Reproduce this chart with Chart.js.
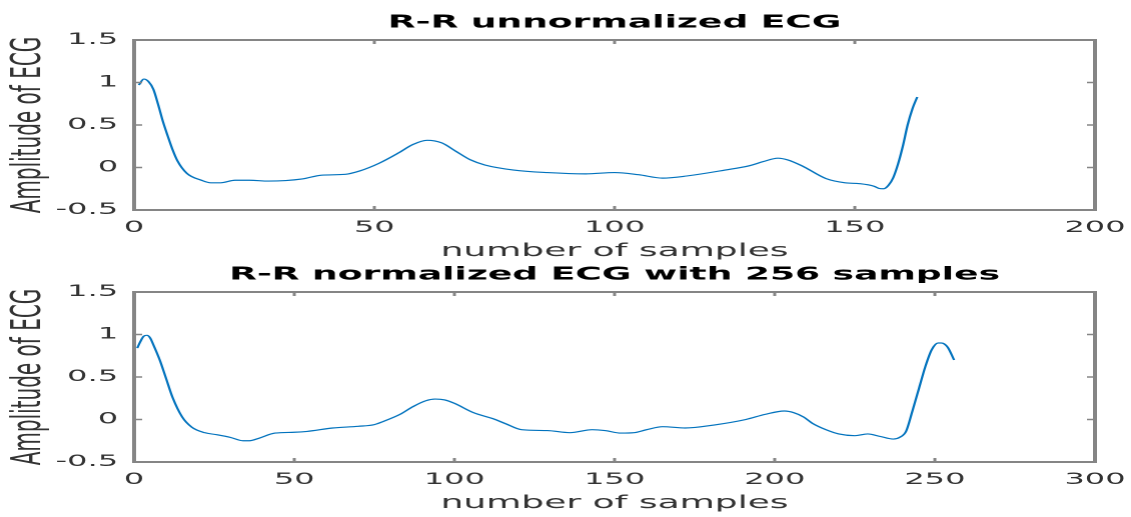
<!DOCTYPE html>
<html>
<head>
<meta charset="utf-8">
<title>R-R ECG</title>
<script src="https://cdn.jsdelivr.net/npm/chart.js@4.4.1/dist/chart.umd.min.js"></script>
<style>
  html, body { margin: 0; padding: 0; background: #fff; }
  #wrap { position: relative; width: 1131px; height: 517px; overflow: hidden; }
  canvas { position: absolute; left: 0; }
  #ecgTop { top: 0; }
  #ecgNorm { top: 252px; }
</style>
</head>
<body>
<div id="wrap">
  <canvas id="ecgTop" width="565" height="265" style="width:1131px;height:265px"></canvas>
  <canvas id="ecgNorm" width="565" height="265" style="width:1131px;height:265px"></canvas>
</div>
<script>
// one R-R interval, raw length (163 samples)
var rawSamples = [1, 2, 3, 4, 5, 6, 7, 8, 9, 11, 14, 16, 18, 21, 24, 28, 35, 39, 44, 47,
  51, 55, 58, 61, 64, 67, 70, 73, 79, 86, 94, 100, 105, 110, 115, 123, 128, 131, 134, 136,
  139, 144, 148, 151, 154, 155, 156, 157, 158, 159, 160, 161, 162, 163];
var rawAmplitude = [0.97, 1.04, 1.01, 0.92, 0.74, 0.54, 0.37, 0.21, 0.08, -0.07, -0.15, -0.18, -0.18, -0.15, -0.15, -0.16, -0.135, -0.09, -0.08, -0.04,
  0.05, 0.17, 0.27, 0.32, 0.29, 0.19, 0.09, 0.03, -0.03, -0.06, -0.075, -0.06, -0.085, -0.125, -0.1, -0.03, 0.02, 0.07, 0.11, 0.09,
  0.02, -0.13, -0.18, -0.19, -0.22, -0.245, -0.25, -0.21, -0.12, 0.04, 0.25, 0.5, 0.69, 0.83];

// same interval resampled to 256 samples
var normSamples = [1, 2, 3, 4, 5, 6, 8, 10, 12, 15, 18, 22, 26, 30, 34, 36, 39, 44, 50, 54,
  62, 70, 75, 78, 83, 87, 91, 94, 97, 100, 106, 112, 116, 121, 129, 136, 143, 147, 152, 156,
  160, 165, 172, 181, 191, 197, 203, 206, 209, 212, 216, 220, 225, 229, 233, 237, 239, 241, 243, 245, 247,
  249, 251, 252, 254, 256];
var normAmplitude = [0.84, 0.92, 0.98, 0.99, 0.96, 0.88, 0.70, 0.48, 0.26, 0.03, -0.09, -0.155, -0.18, -0.21, -0.25, -0.25, -0.22, -0.16, -0.15, -0.14,
  -0.10, -0.08, -0.06, -0.02, 0.06, 0.15, 0.22, 0.24, 0.23, 0.19, 0.08, 0.01, -0.05, -0.12, -0.13, -0.155, -0.12, -0.13, -0.16, -0.155,
  -0.12, -0.085, -0.10, -0.065, 0.0, 0.06, 0.10, 0.08, 0.03, -0.05, -0.12, -0.17, -0.19, -0.17, -0.2, -0.23, -0.21, -0.14, 0.1, 0.36, 0.62,
  0.82, 0.9, 0.9, 0.85, 0.7];

var rawXTicks = [0, 50, 100, 150, 200];
var normXTicks = [0, 50, 100, 150, 200, 250, 300];
var ampTicks = [-0.5, 0, 0.5, 1, 1.5];

Chart.defaults.font.family = 'DejaVu Sans';

// box around the axes with inward ticks on all four sides
var boxPlugin = {
  id: 'axesBox',
  afterDraw: function (chart) {
    var ctx = chart.ctx;
    var a = chart.chartArea;
    var xs = chart.scales.x, ys = chart.scales.y;
    ctx.save();
    ctx.strokeStyle = '#858585';
    ctx.lineWidth = 1.5;
    ctx.beginPath();
    xs.ticks.forEach(function (t) {
      var px = xs.getPixelForValue(t.value);
      ctx.moveTo(px, a.bottom); ctx.lineTo(px, a.bottom - 4);
      ctx.moveTo(px, a.top); ctx.lineTo(px, a.top + 4);
    });
    ys.ticks.forEach(function (t) {
      var py = ys.getPixelForValue(t.value);
      ctx.moveTo(a.left, py); ctx.lineTo(a.left + 4, py);
      ctx.moveTo(a.right, py); ctx.lineTo(a.right - 4, py);
    });
    ctx.stroke();
    ctx.lineWidth = 2;
    ctx.strokeRect(a.left, a.top, a.right - a.left, a.bottom - a.top);
    ctx.restore();
  }
};

function makeChart(id, titleText, samples, amps, xTicks) {
  var points = samples.map(function (s, i) { return { x: s, y: amps[i] }; });
  var ctx = document.getElementById(id).getContext('2d');
  return new Chart(ctx, {
    type: 'line',
    data: {
      datasets: [{
        data: points,
        borderColor: '#0072BD',
        borderWidth: 1.15,
        pointRadius: 0,
        fill: false,
        cubicInterpolationMode: 'monotone'
      }]
    },
    options: {
      responsive: false,
      devicePixelRatio: 2,
      animation: false,
      events: [],
      layout: { padding: { left: 0, right: 18, top: 0, bottom: 0 } },
      plugins: {
        legend: { display: false },
        tooltip: { enabled: false },
        title: {
          display: true,
          fullSize: false,
          text: titleText,
          color: '#000',
          font: { size: 18, weight: 'bold' },
          padding: { top: 12, bottom: 6.4 }
        }
      },
      scales: {
        x: {
          type: 'linear',
          min: xTicks[0],
          max: xTicks[xTicks.length - 1],
          afterBuildTicks: function (scale) {
            scale.ticks = xTicks.map(function (v) { return { value: v }; });
          },
          afterFit: function (scale) { scale.height = 55; },
          // tick marks are hidden, their length only spaces the labels
          grid: { display: false, drawTicks: true, tickLength: 8 },
          border: { display: false },
          ticks: {
            padding: 0,
            color: '#333',
            font: { size: 16 },
            maxRotation: 0,
            callback: function (v) { return String(v); }
          },
          title: {
            display: true,
            text: 'number of samples',
            color: '#333',
            font: { size: 18 },
            padding: { top: 0, bottom: 3 }
          }
        },
        y: {
          min: ampTicks[0],
          max: ampTicks[ampTicks.length - 1],
          afterBuildTicks: function (scale) {
            scale.ticks = ampTicks.map(function (v) { return { value: v }; });
          },
          afterFit: function (scale) { scale.width = 67; },
          grid: { display: false, drawTicks: false },
          border: { display: false },
          ticks: {
            padding: 8,
            color: '#333',
            font: { size: 16 },
            callback: function (v) { return String(v); }
          },
          title: {
            display: true,
            text: 'Amplitude of ECG',
            color: '#333',
            font: { size: 20 },
            padding: { top: 3, bottom: 0 }
          }
        }
      }
    },
    plugins: [boxPlugin]
  });
}

makeChart('ecgTop', 'R-R unnormalized ECG', rawSamples, rawAmplitude, rawXTicks);
makeChart('ecgNorm', 'R-R normalized ECG with 256 samples', normSamples, normAmplitude, normXTicks);
</script>
</body>
</html>
